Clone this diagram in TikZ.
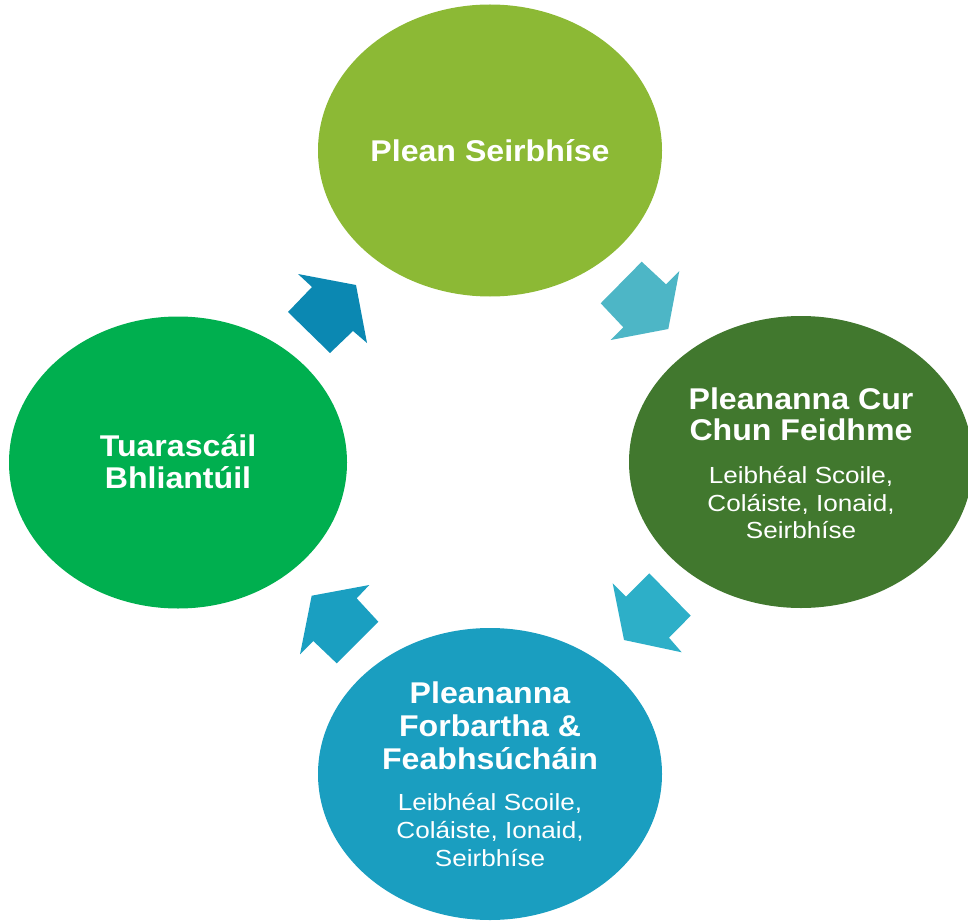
\documentclass[tikz,border=0pt]{standalone}
\usepackage{fontspec}
\setmainfont{Liberation Sans}
\newfontfamily\ttlfont{Liberation Sans}[FakeStretch=1.07]
\newfontfamily\subfont{Liberation Sans}[FakeStretch=1.12]
\usetikzlibrary{shapes.geometric}
\definecolor{cTop}{HTML}{8CB935}
\definecolor{cRight}{HTML}{41782E}
\definecolor{cLeft}{HTML}{00AF4F}
\definecolor{cBottom}{HTML}{1A9EC0}
\definecolor{aOne}{HTML}{0B88B2}
\definecolor{aTwo}{HTML}{4DB6C6}
\definecolor{aThree}{HTML}{2DAFC8}
\definecolor{aFour}{HTML}{1A9FC1}
\tikzset{
  blob/.style={ellipse, draw=none, inner sep=0pt, minimum width=344pt, minimum height=292pt},
  ttl/.style={anchor=base, inner sep=0pt, text=white, font=\ttlfont\bfseries\fontsize{30}{31}\selectfont},
  sub/.style={anchor=base, inner sep=0pt, text=white, font=\subfont\fontsize{23.3}{27}\selectfont},
}
\begin{document}
\begin{tikzpicture}[x=1pt,y=-1pt]
\useasboundingbox (0,0) rectangle (968,920);
% ellipses
\node[blob, fill=cTop] (top) at (490,150.5) {};
\node[blob, fill=cRight] (right) at (801,462) {};
\node[blob, fill=cLeft, minimum width=338pt] (left) at (178,462.5) {};
\node[blob, fill=cBottom] (bottom) at (490,774) {};
% arrows
\fill[aOne] (298,274) -- (356,285) -- (367,343) -- (353,331) -- (330,353) -- (288,312) -- (312,287) -- cycle;
\fill[aTwo] (641.7,261.7) -- (666,284.3) -- (679.3,271) -- (668.3,329) -- (610.7,340) -- (623.3,327.3) -- (600.7,303.3) -- cycle;
\fill[aThree] (649.3,573.3) -- (690.7,615.7) -- (669,637.7) -- (681.7,652.3) -- (624,640) -- (612.7,583.3) -- (626,596.7) -- cycle;
\fill[aFour] (369.3,585) -- (356.7,598.3) -- (378.3,621.7) -- (336.7,663.3) -- (313.3,641) -- (300,654.3) -- (311.7,595.7) -- cycle;
% texts
\node[ttl] (t1) at (490,161.7) {Plean Seirbhíse};
\node[ttl] (r1) at (801,409) {Pleananna Cur};
\node[ttl] (r2) at (801,440) {Chun Feidhme};
\node[sub] (r3) at (801,483) {Leibhéal Scoile,};
\node[sub] (r4) at (801,511) {Coláiste, Ionaid,};
\node[sub] (r5) at (801,538) {Seirbhíse};
\node[ttl] (l1) at (178,456.7) {Tuarascáil};
\node[ttl] (l2) at (178,488.3) {Bhliantúil};
\node[ttl] (b1) at (490,703.3) {Pleananna};
\node[ttl] (b2) at (490,736.7) {Forbartha \&};
\node[ttl] (b3) at (490,769) {Feabhsúcháin};
\node[sub] (b4) at (490,810.7) {Leibhéal Scoile,};
\node[sub] (b5) at (490,838.3) {Coláiste, Ionaid,};
\node[sub] (b6) at (490,866) {Seirbhíse};
\end{tikzpicture}
\end{document}
